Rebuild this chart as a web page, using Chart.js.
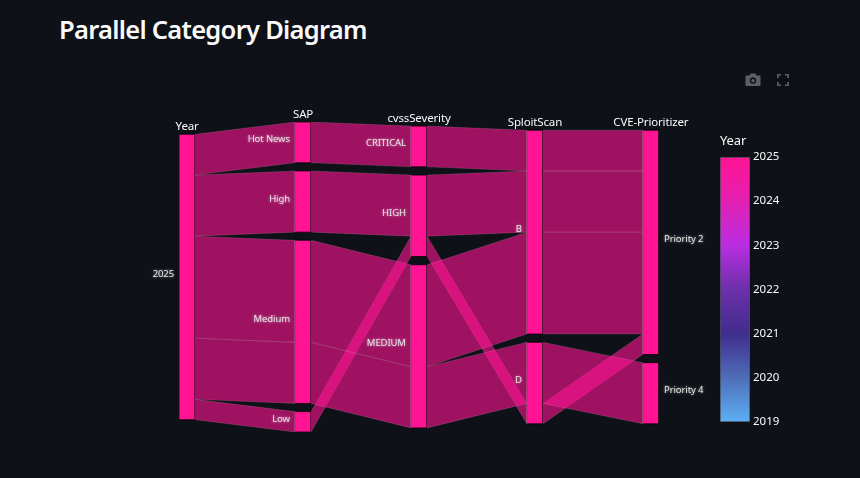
<!DOCTYPE html>
<html lang="en">
<head>
  <meta charset="UTF-8">
  <title>Parallel Category Diagram</title>
  <style>
    body { margin: 0; background: #0e1117; overflow: hidden; width: 860px; height: 478px; position: relative; }
    h1 { position: absolute; left: 59px; top: 12px; margin: 0; color: #fafafa; font: 600 25.5px "Noto Sans", sans-serif; letter-spacing: -0.72px; white-space: nowrap; }
    #mainChart, #colorBar { position: absolute; }
    #mainChart { left: 0; top: 0; }
    #colorBar { left: 700px; top: 130px; }
    .icon { position: absolute; fill: #5c5f65; }
  </style>
  <script src="https://cdn.jsdelivr.net/npm/chart.js"></script>
</head>
<body>
  <h1>Parallel Category Diagram</h1>

  <svg class="icon" style="left:745px;top:72px" width="16" height="16" viewBox="0 0 16 16">
    <path fill-rule="evenodd" d="M1.5 3.5h3l1-2h5l1 2h3q1 0 1 1v8.5q0 1-1 1h-13q-1 0-1-1v-8.5q0-1 1-1zM8 5.2a3.3 3.3 0 1 0 .01 0zM8 6.9a1.7 1.7 0 1 1-.01 0z"/>
  </svg>
  <svg class="icon" style="left:776px;top:73px" width="14" height="14" viewBox="0 0 14 14">
    <path d="M1 1h4v1.6H2.6V5H1zM9 1h4v4h-1.6V2.6H9zM1 9h1.6v2.4H5V13H1zM11.4 9H13v4H9v-1.6h2.4z"/>
  </svg>

  <canvas id="mainChart" width="860" height="478"></canvas>
  <canvas id="colorBar" width="110" height="300"></canvas>

  <script>
    const dimensions = ["Year", "SAP", "cvssSeverity", "SploitScan", "CVE-Prioritizer"];
    const yearCats = ["2025"];
    const yearCounts = [14];
    const sapCats = ["Hot News", "High", "Medium", "Low"];
    const sapCounts = [2, 3, 8, 1];
    const cvssCats = ["CRITICAL", "HIGH", "MEDIUM"];
    const cvssCounts = [2, 4, 8];
    const sploitCats = ["B", "D"];
    const sploitCounts = [10, 4];
    const prioCats = ["Priority 2", "Priority 4"];
    const prioCounts = [11, 3];

    // ribbons between neighbouring dimensions: [from category, to category, count]
    const yearToSap = [[0, 0, 2], [0, 1, 3], [0, 2, 5], [0, 2, 3], [0, 3, 1]];
    const sapToCvss = [[0, 0, 2], [1, 1, 3], [2, 2, 5], [2, 2, 3], [3, 1, 1]];
    const cvssToSploit = [[0, 0, 2], [1, 0, 3], [2, 0, 5], [2, 1, 3], [1, 1, 1]];
    const sploitToPrio = [[0, 0, 2], [0, 0, 3], [0, 0, 5], [1, 1, 3], [1, 0, 1]];

    const colorBarYears = [2019, 2025];

    const allCats = [yearCats, sapCats, cvssCats, sploitCats, prioCats];
    const allCounts = [yearCounts, sapCounts, cvssCounts, sploitCounts, prioCounts];
    const allRibbons = [yearToSap, sapToCvss, cvssToSploit, sploitToPrio];

    const GAP = 0.4;            // space between categories, in records
    const BLOCK_W = 0.14;       // block width, in dimension steps
    const PINK = "#ff1493";
    const RIBBON = "rgba(255,20,147,0.6)";
    const TEXT = "#fafafa";
    const FONT = '"Noto Sans", sans-serif';

    const total = yearCounts.reduce((a, b) => a + b, 0);
    const tallest = total + GAP * (sapCounts.length - 1);

    // top of every category block, each dimension centred vertically
    const catTops = allCounts.map(counts => {
      const h = total + GAP * (counts.length - 1);
      let y = (tallest - h) / 2;
      return counts.map(c => {
        const top = y;
        y += c + GAP;
        return top;
      });
    });

    function polygon(points, fill, border, width) {
      return {
        data: points.concat([points[0]]).map(p => ({ x: p[0], y: p[1] })),
        showLine: true,
        fill: "shape",
        backgroundColor: fill,
        borderColor: border,
        borderWidth: width,
        pointRadius: 0,
        tension: 0
      };
    }

    const datasets = [];

    allRibbons.forEach((rows, d) => {
      const fromUsed = allCounts[d].map(() => 0);
      const toUsed = allCounts[d + 1].map(() => 0);
      rows.forEach(([from, to, n]) => {
        const y0 = catTops[d][from] + fromUsed[from];
        const y1 = catTops[d + 1][to] + toUsed[to];
        fromUsed[from] += n;
        toUsed[to] += n;
        const x0 = d + BLOCK_W, x1 = d + 1;
        datasets.push(polygon([[x0, y0], [x1, y1], [x1, y1 + n], [x0, y0 + n]], RIBBON, "rgba(255,255,255,0.2)", 0.6));
      });
    });

    allCounts.forEach((counts, d) => {
      counts.forEach((c, i) => {
        const t = catTops[d][i];
        datasets.push(polygon([[d, t], [d + BLOCK_W, t], [d + BLOCK_W, t + c], [d, t + c]], PINK, "rgba(0,0,0,0.75)", 1));
      });
    });

    const labelPlugin = {
      id: "parcatsLabels",
      afterDatasetsDraw(chart) {
        const { ctx, scales } = chart;
        const xs = scales.x, ys = scales.y;
        ctx.save();
        ctx.fillStyle = TEXT;

        // dimension names above each column
        ctx.font = "11.5px " + FONT;
        ctx.letterSpacing = "-0.15px";
        ctx.textAlign = "center";
        ctx.textBaseline = "alphabetic";
        dimensions.forEach((name, d) => {
          ctx.fillText(name, xs.getPixelForValue(d + BLOCK_W / 2), ys.getPixelForValue(catTops[d][0]) - 4);
        });

        // category names, on the left except for the last column
        ctx.font = "9.5px " + FONT;
        ctx.letterSpacing = "-0.1px";
        ctx.fillStyle = "#e6e6e6";
        ctx.shadowColor = "rgba(255,255,255,0.6)";
        ctx.shadowBlur = 3;
        allCats.forEach((cats, d) => {
          const last = d === allCats.length - 1;
          ctx.textAlign = last ? "left" : "right";
          const x = last ? xs.getPixelForValue(d + BLOCK_W) + 5 : xs.getPixelForValue(d) - 5;
          cats.forEach((name, i) => {
            const mid = catTops[d][i] + allCounts[d][i] / 2;
            ctx.fillText(name, x, ys.getPixelForValue(mid));
          });
        });
        ctx.restore();
      }
    };

    new Chart(document.getElementById("mainChart"), {
      type: "scatter",
      data: { datasets: datasets },
      options: {
        responsive: false,
        animation: false,
        layout: { padding: { left: 179, right: 201, top: 122, bottom: 46 } },
        plugins: { legend: { display: false }, tooltip: { enabled: false } },
        scales: {
          x: { type: "linear", display: false, min: 0, max: dimensions.length - 1 + BLOCK_W },
          y: { type: "linear", display: false, reverse: true, min: 0, max: tallest }
        }
      },
      plugins: [labelPlugin]
    });

    const colorBarTitle = {
      id: "colorBarTitle",
      afterDraw(chart) {
        const { ctx, chartArea } = chart;
        ctx.save();
        ctx.fillStyle = TEXT;
        ctx.font = "13px " + FONT;
        ctx.letterSpacing = "-0.1px";
        ctx.textBaseline = "alphabetic";
        ctx.fillText("Year", chartArea.left, chartArea.top - 12);
        ctx.restore();
      }
    };

    new Chart(document.getElementById("colorBar"), {
      type: "bar",
      data: {
        labels: ["Year"],
        datasets: [{
          data: [colorBarYears],
          barPercentage: 1,
          categoryPercentage: 1,
          borderColor: "#444a52",
          borderWidth: 1,
          borderSkipped: false,
          backgroundColor(context) {
            const area = context.chart.chartArea;
            if (!area) return PINK;
            const g = context.chart.ctx.createLinearGradient(0, area.top, 0, area.bottom);
            g.addColorStop(0, "#ff1493");
            g.addColorStop(1 / 6, "#e320b2");
            g.addColorStop(2 / 6, "#ba2de2");
            g.addColorStop(3 / 6, "#6c30aa");
            g.addColorStop(4 / 6, "#412d8c");
            g.addColorStop(5 / 6, "#4f6db9");
            g.addColorStop(1, "#5cb0f5");
            return g;
          }
        }]
      },
      options: {
        responsive: false,
        animation: false,
        layout: { padding: { left: 20, right: 0, top: 27, bottom: 8 } },
        plugins: { legend: { display: false }, tooltip: { enabled: false } },
        scales: {
          x: { display: false },
          y: {
            position: "right",
            min: colorBarYears[0],
            max: colorBarYears[1],
            grid: { display: false, drawTicks: false },
            border: { display: false },
            afterFit(scale) {
              scale.width = 60;
              scale.paddingTop = 0;
              scale.paddingBottom = 0;
            },
            ticks: {
              stepSize: 1,
              padding: 3,
              color: TEXT,
              font: { family: FONT, size: 11.5 },
              callback: v => String(v)
            }
          }
        }
      },
      plugins: [colorBarTitle]
    });
  </script>
</body>
</html>
